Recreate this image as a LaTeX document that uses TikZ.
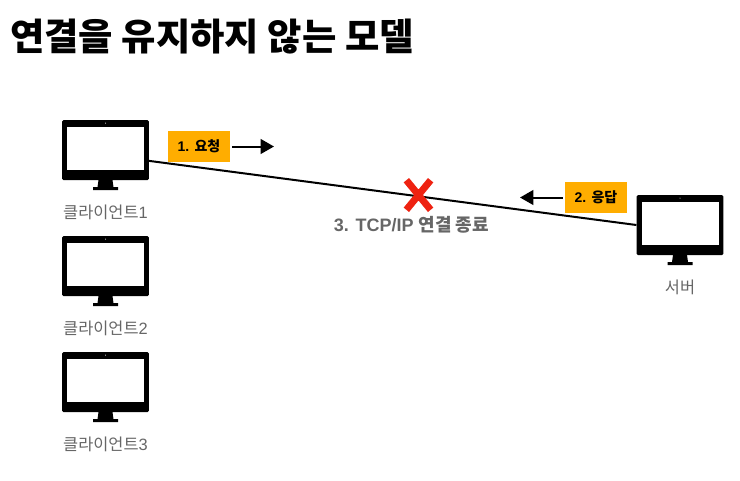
\documentclass[tikz,border=0pt]{standalone}
\usepackage{fontspec}
\setmainfont{Liberation Sans}
\newfontfamily\kr{Noto Sans CJK KR}
\usetikzlibrary{arrows.meta,shapes.misc}
\definecolor{labelgray}{HTML}{666666}
\definecolor{stepamber}{HTML}{FFAD00}
\definecolor{cutred}{HTML}{EE2211}
\tikzset{
  monitor/.pic={
    \node[fill=black,rounded corners=1pt,minimum width=65pt,minimum height=45pt,inner sep=0pt] (-body) at (0,0) {};
    \fill[white] (-38.5,-23) rectangle (38.5,19.5);
    \fill[white] (0,-27) circle (.5);
    \fill[black] (-7,30) -- (7,30) -- (8,37) -- (12.5,37) -- (12.5,40) -- (-12.5,40) -- (-12.5,37) -- (-8,37) -- cycle;
  },
  devlabel/.style={text=labelgray,font=\fontsize{12.3pt}{14pt}\selectfont,inner sep=0pt},
  stepbox/.style={fill=stepamber,minimum width=46.5pt,minimum height=23.2pt,inner sep=0pt,font=\bfseries\fontsize{10.5pt}{12pt}\selectfont},
  steparrow/.style={-{Triangle[length=10pt,width=11pt]},line width=1.5pt,shorten <=1.5pt}
}
\begin{document}
\begin{tikzpicture}[x=.75pt,y=-.75pt]
  \useasboundingbox (0,0) rectangle (740,480);
  \node[anchor=west,inner sep=0pt,font=\kr\bfseries\fontsize{28pt}{34pt}\selectfont] (title) at (10,37) {연결을 유지하지 않는 모델};

  \pic (client1) at (105.5,150) {monitor};
  \pic (client2) at (105.5,266) {monitor};
  \pic (client3) at (105.5,382) {monitor};
  \pic (server) at (680,225) {monitor};

  \node[devlabel] (client1label) at (105.5,212.5) {{\kr 클라이언트}1};
  \node[devlabel] (client2label) at (105.5,328.5) {{\kr 클라이언트}2};
  \node[devlabel] (client3label) at (105.5,444.5) {{\kr 클라이언트}3};
  \node[devlabel,font=\kr\fontsize{12.3pt}{14pt}\selectfont] (serverlabel) at (680,287.5) {서버};

  \draw[line width=1.5pt] (client1-body.-14) -- (server-body.west);

  \node[stepbox] (request) at (199,146.5) {1. {\kr 요청}};
  \node[stepbox] (response) at (596,197.5) {2. {\kr 응답}};
  \coordinate (requestend) at (274,146.5);
  \coordinate (responseend) at (520,197.5);
  \draw[steparrow] (request.east) -- (requestend);
  \draw[steparrow] (response.west) -- (responseend);

  \node[cross out,draw=cutred,line width=5.2pt,minimum width=13pt,minimum height=17pt,inner sep=0pt] (cut) at (418.5,195) {};
  \node[text=labelgray,inner sep=0pt,font=\bfseries\fontsize{13.5pt}{16pt}\selectfont] (cutlabel) at (411.5,225) {3. TCP/IP {\kr 연결 종료}};
\end{tikzpicture}
\end{document}
